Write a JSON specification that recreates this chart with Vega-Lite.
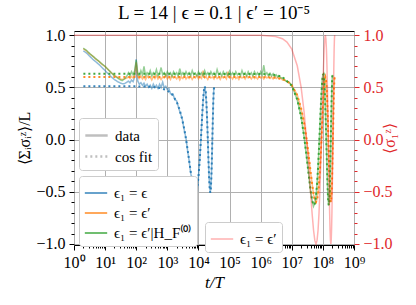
{
"$schema": "https://vega.github.io/schema/vega-lite/v6.json",
"width": 280, "height": 214,
"autosize": {"type": "none"},
"padding": {"left": 74, "top": 31, "right": 62, "bottom": 60},
"title": {"text": "L = 14 | ϵ = 0.1 | ϵ′ = 10⁻⁵", "font": "Liberation Serif", "fontSize": 19, "fontWeight": "normal", "anchor": "middle", "baseline": "alphabetic", "offset": 10, "dy": 21, "color": "black"},
"datasets": {
"main": [
{"t":1.995,"v":0.85,"s":"a"},{"t":2.512,"v":0.83,"s":"a"},{"t":3.162,"v":0.80,"s":"a"},{"t":3.981,"v":0.77,"s":"a"},{"t":5.012,"v":0.745,"s":"a"},{"t":6.31,"v":0.72,"s":"a"},{"t":7.943,"v":0.69,"s":"a"},{"t":10,"v":0.66,"s":"a"},{"t":12.59,"v":0.63,"s":"a"},{"t":15.85,"v":0.60,"s":"a"},{"t":19.95,"v":0.575,"s":"a"},{"t":25.12,"v":0.555,"s":"a"},{"t":31.62,"v":0.54,"s":"a"},{"t":35.48,"v":0.535,"s":"a"},{"t":39.81,"v":0.535,"s":"a"},{"t":44.67,"v":0.54,"s":"a"},{"t":50.12,"v":0.55,"s":"a"},
{"t":56.23,"v":0.56,"s":"a"},{"t":63.1,"v":0.545,"s":"a"},{"t":70.79,"v":0.57,"s":"a"},{"t":79.43,"v":0.555,"s":"a"},{"t":89.13,"v":0.6,"s":"a"},{"t":100,"v":0.77,"s":"a"},{"t":112.2,"v":0.56,"s":"a"},{"t":125.9,"v":0.53,"s":"a"},{"t":141.3,"v":0.545,"s":"a"},{"t":158.5,"v":0.52,"s":"a"},{"t":177.8,"v":0.54,"s":"a"},{"t":199.5,"v":0.51,"s":"a"},{"t":223.9,"v":0.53,"s":"a"},{"t":251.2,"v":0.5,"s":"a"},{"t":281.8,"v":0.52,"s":"a"},{"t":316.2,"v":0.49,"s":"a"},{"t":354.8,"v":0.53,"s":"a"},{"t":398.1,"v":0.5,"s":"a"},{"t":446.7,"v":0.52,"s":"a"},{"t":501.2,"v":0.49,"s":"a"},{"t":562.3,"v":0.53,"s":"a"},{"t":631,"v":0.5,"s":"a"},{"t":707.9,"v":0.55,"s":"a"},{"t":794.3,"v":0.495,"s":"a"},{"t":891.3,"v":0.51,"s":"a"},{"t":1000,"v":0.48,"s":"a"},
{"t":1122,"v":0.49,"s":"a"},{"t":1259,"v":0.44,"s":"a"},{"t":1500,"v":0.44,"s":"a"},{"t":1750,"v":0.38,"s":"a"},{"t":2000,"v":0.37,"s":"a"},{"t":2500,"v":0.27,"s":"a"},{"t":3000,"v":0.2,"s":"a"},{"t":3500,"v":0.09,"s":"a"},{"t":4000,"v":0.01,"s":"a"},{"t":4500,"v":-0.11,"s":"a"},{"t":5000,"v":-0.2,"s":"a"},{"t":5500,"v":-0.3,"s":"a"},{"t":6000,"v":-0.37,"s":"a"},{"t":6500,"v":-0.44,"s":"a"},{"t":7000,"v":-0.5,"s":"a"},{"t":7500,"v":-0.55,"s":"a"},{"t":8000,"v":-0.58,"s":"a"},{"t":8500,"v":-0.6,"s":"a"},{"t":9000,"v":-0.55,"s":"a"},{"t":9500,"v":-0.45,"s":"a"},{"t":10000,"v":-0.36,"s":"a"},{"t":11000,"v":-0.19,"s":"a"},{"t":12000,"v":0,"s":"a"},{"t":13000,"v":0.2,"s":"a"},{"t":14000,"v":0.36,"s":"a"},{"t":15000,"v":0.47,"s":"a"},{"t":16000,"v":0.5,"s":"a"},{"t":17000,"v":0.46,"s":"a"},{"t":18000,"v":0.35,"s":"a"},{"t":19000,"v":0.19,"s":"a"},{"t":20000,"v":0,"s":"a"},{"t":21000,"v":-0.2,"s":"a"},{"t":22000,"v":-0.36,"s":"a"},{"t":23000,"v":-0.46,"s":"a"},{"t":24000,"v":-0.5,"s":"a"},{"t":25000,"v":-0.47,"s":"a"},{"t":26000,"v":-0.36,"s":"a"},{"t":27000,"v":-0.2,"s":"a"},{"t":28000,"v":0,"s":"a"},{"t":29000,"v":0.2,"s":"a"},{"t":30000,"v":0.36,"s":"a"},{"t":31000,"v":0.47,"s":"a"},{"t":32000,"v":0.5,"s":"a"},

{"t":1.995,"v":0.87,"s":"b"},{"t":2.512,"v":0.85,"s":"b"},{"t":3.162,"v":0.82,"s":"b"},{"t":3.981,"v":0.80,"s":"b"},{"t":5.012,"v":0.77,"s":"b"},{"t":6.31,"v":0.75,"s":"b"},{"t":7.943,"v":0.72,"s":"b"},{"t":10,"v":0.70,"s":"b"},{"t":12.59,"v":0.67,"s":"b"},{"t":15.85,"v":0.64,"s":"b"},{"t":19.95,"v":0.615,"s":"b"},{"t":25.12,"v":0.595,"s":"b"},{"t":31.62,"v":0.58,"s":"b"},{"t":35.48,"v":0.575,"s":"b"},{"t":39.81,"v":0.58,"s":"b"},{"t":44.67,"v":0.585,"s":"b"},{"t":50.12,"v":0.59,"s":"b"},
{"t":56.23,"v":0.60,"s":"b"},{"t":63.1,"v":0.585,"s":"b"},{"t":70.79,"v":0.605,"s":"b"},{"t":79.43,"v":0.59,"s":"b"},{"t":89.13,"v":0.62,"s":"b"},{"t":100,"v":0.74,"s":"b"},{"t":112.2,"v":0.60,"s":"b"},{"t":125.9,"v":0.585,"s":"b"},{"t":141.3,"v":0.61,"s":"b"},{"t":158.5,"v":0.58,"s":"b"},{"t":177.8,"v":0.6,"s":"b"},{"t":199.5,"v":0.575,"s":"b"},{"t":223.9,"v":0.61,"s":"b"},{"t":251.2,"v":0.59,"s":"b"},{"t":281.8,"v":0.6,"s":"b"},{"t":316.2,"v":0.57,"s":"b"},{"t":354.8,"v":0.605,"s":"b"},{"t":398.1,"v":0.585,"s":"b"},{"t":446.7,"v":0.615,"s":"b"},{"t":501.2,"v":0.58,"s":"b"},{"t":562.3,"v":0.6,"s":"b"},{"t":631,"v":0.575,"s":"b"},{"t":707.9,"v":0.6,"s":"b"},{"t":794.3,"v":0.59,"s":"b"},{"t":891.3,"v":0.62,"s":"b"},{"t":1000,"v":0.58,"s":"b"},
{"t":1122,"v":0.6,"s":"b"},{"t":1259,"v":0.575,"s":"b"},{"t":1413,"v":0.61,"s":"b"},{"t":1585,"v":0.59,"s":"b"},{"t":1778,"v":0.6,"s":"b"},{"t":1995,"v":0.58,"s":"b"},{"t":2239,"v":0.605,"s":"b"},{"t":2512,"v":0.57,"s":"b"},{"t":2818,"v":0.6,"s":"b"},{"t":3162,"v":0.585,"s":"b"},{"t":3548,"v":0.61,"s":"b"},{"t":3981,"v":0.58,"s":"b"},{"t":4467,"v":0.6,"s":"b"},{"t":5012,"v":0.585,"s":"b"},{"t":5623,"v":0.605,"s":"b"},{"t":6310,"v":0.575,"s":"b"},{"t":7079,"v":0.6,"s":"b"},{"t":7943,"v":0.59,"s":"b"},{"t":8913,"v":0.615,"s":"b"},{"t":10000,"v":0.58,"s":"b"},
{"t":11220,"v":0.6,"s":"b"},{"t":12590,"v":0.585,"s":"b"},{"t":14130,"v":0.66,"s":"b"},{"t":15850,"v":0.59,"s":"b"},{"t":17780,"v":0.6,"s":"b"},{"t":19950,"v":0.575,"s":"b"},{"t":22390,"v":0.605,"s":"b"},{"t":25120,"v":0.59,"s":"b"},{"t":28180,"v":0.6,"s":"b"},{"t":31620,"v":0.58,"s":"b"},{"t":35480,"v":0.61,"s":"b"},{"t":39810,"v":0.585,"s":"b"},{"t":44670,"v":0.6,"s":"b"},{"t":50120,"v":0.575,"s":"b"},{"t":56230,"v":0.605,"s":"b"},{"t":63100,"v":0.59,"s":"b"},{"t":70790,"v":0.6,"s":"b"},{"t":79430,"v":0.58,"s":"b"},{"t":89130,"v":0.65,"s":"b"},{"t":100000,"v":0.59,"s":"b"},
{"t":112200,"v":0.6,"s":"b"},{"t":125900,"v":0.58,"s":"b"},{"t":141300,"v":0.61,"s":"b"},{"t":158500,"v":0.585,"s":"b"},{"t":177800,"v":0.6,"s":"b"},{"t":199500,"v":0.575,"s":"b"},{"t":223900,"v":0.605,"s":"b"},{"t":251200,"v":0.59,"s":"b"},{"t":281800,"v":0.6,"s":"b"},{"t":316200,"v":0.58,"s":"b"},{"t":354800,"v":0.61,"s":"b"},{"t":398100,"v":0.59,"s":"b"},{"t":446700,"v":0.6,"s":"b"},{"t":501200,"v":0.58,"s":"b"},{"t":562300,"v":0.605,"s":"b"},{"t":631000,"v":0.585,"s":"b"},{"t":707900,"v":0.6,"s":"b"},{"t":794300,"v":0.58,"s":"b"},{"t":891300,"v":0.605,"s":"b"},{"t":1000000,"v":0.59,"s":"b"},
{"t":1122000,"v":0.6,"s":"b"},{"t":1259000,"v":0.58,"s":"b"},{"t":1413000,"v":0.605,"s":"b"},{"t":1585000,"v":0.59,"s":"b"},{"t":1778000,"v":0.6,"s":"b"},{"t":1995000,"v":0.585,"s":"b"},{"t":2239000,"v":0.6,"s":"b"},{"t":2512000,"v":0.58,"s":"b"},{"t":2818000,"v":0.6,"s":"b"},{"t":3162000,"v":0.585,"s":"b"},{"t":3548000,"v":0.595,"s":"b"},{"t":3981000,"v":0.58,"s":"b"},{"t":4467000,"v":0.59,"s":"b"},{"t":5012000,"v":0.57,"s":"b"},{"t":5623000,"v":0.575,"s":"b"},{"t":6310000,"v":0.56,"s":"b"},
{"t":8e6,"v":0.55,"s":"b"},{"t":1e7,"v":0.52,"s":"b"},{"t":1.5e7,"v":0.43,"s":"b"},{"t":2e7,"v":0.29,"s":"b"},{"t":2.5e7,"v":0.16,"s":"b"},{"t":3e7,"v":-0.01,"s":"b"},{"t":3.5e7,"v":-0.15,"s":"b"},{"t":4e7,"v":-0.31,"s":"b"},{"t":4.5e7,"v":-0.42,"s":"b"},{"t":5e7,"v":-0.53,"s":"b"},{"t":5.5e7,"v":-0.57,"s":"b"},{"t":6e7,"v":-0.6,"s":"b"},{"t":6.5e7,"v":-0.57,"s":"b"},{"t":7e7,"v":-0.51,"s":"b"},{"t":7.5e7,"v":-0.43,"s":"b"},{"t":8e7,"v":-0.29,"s":"b"},{"t":8.5e7,"v":-0.16,"s":"b"},{"t":9e7,"v":0.01,"s":"b"},{"t":9.5e7,"v":0.15,"s":"b"},{"t":1e8,"v":0.31,"s":"b"},{"t":1.05e8,"v":0.42,"s":"b"},{"t":1.1e8,"v":0.53,"s":"b"},{"t":1.15e8,"v":0.58,"s":"b"},{"t":1.2e8,"v":0.6,"s":"b"},{"t":1.25e8,"v":0.57,"s":"b"},{"t":1.3e8,"v":0.52,"s":"b"},{"t":1.35e8,"v":0.42,"s":"b"},{"t":1.4e8,"v":0.3,"s":"b"},{"t":1.45e8,"v":0.15,"s":"b"},{"t":1.5e8,"v":0,"s":"b"},{"t":1.55e8,"v":-0.16,"s":"b"},{"t":1.6e8,"v":-0.3,"s":"b"},{"t":1.65e8,"v":-0.43,"s":"b"},{"t":1.7e8,"v":-0.52,"s":"b"},{"t":1.75e8,"v":-0.58,"s":"b"},{"t":1.8e8,"v":-0.6,"s":"b"},{"t":1.85e8,"v":-0.57,"s":"b"},{"t":1.9e8,"v":-0.52,"s":"b"},{"t":1.95e8,"v":-0.42,"s":"b"},{"t":2e8,"v":-0.3,"s":"b"},{"t":2.05e8,"v":-0.15,"s":"b"},{"t":2.1e8,"v":0,"s":"b"},{"t":2.15e8,"v":0.16,"s":"b"},{"t":2.2e8,"v":0.3,"s":"b"},{"t":2.25e8,"v":0.43,"s":"b"},{"t":2.3e8,"v":0.52,"s":"b"},{"t":2.35e8,"v":0.58,"s":"b"},{"t":2.4e8,"v":0.6,"s":"b"},

{"t":1.995,"v":0.875,"s":"c"},{"t":2.512,"v":0.855,"s":"c"},{"t":3.162,"v":0.825,"s":"c"},{"t":3.981,"v":0.80,"s":"c"},{"t":5.012,"v":0.775,"s":"c"},{"t":6.31,"v":0.75,"s":"c"},{"t":7.943,"v":0.725,"s":"c"},{"t":10,"v":0.70,"s":"c"},{"t":12.59,"v":0.67,"s":"c"},{"t":15.85,"v":0.64,"s":"c"},{"t":19.95,"v":0.61,"s":"c"},{"t":25.12,"v":0.59,"s":"c"},{"t":31.62,"v":0.57,"s":"c"},{"t":35.48,"v":0.565,"s":"c"},{"t":39.81,"v":0.575,"s":"c"},{"t":44.67,"v":0.59,"s":"c"},{"t":50.12,"v":0.61,"s":"c"},
{"t":56.23,"v":0.64,"s":"c"},{"t":63.1,"v":0.61,"s":"c"},{"t":70.79,"v":0.65,"s":"c"},{"t":79.43,"v":0.62,"s":"c"},{"t":89.13,"v":0.66,"s":"c"},{"t":100,"v":0.76,"s":"c"},{"t":112.2,"v":0.63,"s":"c"},{"t":125.9,"v":0.61,"s":"c"},{"t":141.3,"v":0.66,"s":"c"},{"t":158.5,"v":0.62,"s":"c"},{"t":177.8,"v":0.70,"s":"c"},{"t":199.5,"v":0.61,"s":"c"},{"t":223.9,"v":0.64,"s":"c"},{"t":251.2,"v":0.62,"s":"c"},{"t":281.8,"v":0.66,"s":"c"},{"t":316.2,"v":0.61,"s":"c"},{"t":354.8,"v":0.64,"s":"c"},{"t":398.1,"v":0.62,"s":"c"},{"t":446.7,"v":0.67,"s":"c"},{"t":501.2,"v":0.61,"s":"c"},{"t":562.3,"v":0.635,"s":"c"},{"t":631,"v":0.69,"s":"c"},{"t":707.9,"v":0.62,"s":"c"},{"t":794.3,"v":0.64,"s":"c"},{"t":891.3,"v":0.61,"s":"c"},{"t":1000,"v":0.65,"s":"c"},
{"t":1122,"v":0.62,"s":"c"},{"t":1259,"v":0.64,"s":"c"},{"t":1413,"v":0.605,"s":"c"},{"t":1585,"v":0.65,"s":"c"},{"t":1778,"v":0.62,"s":"c"},{"t":1995,"v":0.64,"s":"c"},{"t":2239,"v":0.61,"s":"c"},{"t":2512,"v":0.68,"s":"c"},{"t":2818,"v":0.62,"s":"c"},{"t":3162,"v":0.64,"s":"c"},{"t":3548,"v":0.61,"s":"c"},{"t":3981,"v":0.65,"s":"c"},{"t":4467,"v":0.62,"s":"c"},{"t":5012,"v":0.64,"s":"c"},{"t":5623,"v":0.61,"s":"c"},{"t":6310,"v":0.66,"s":"c"},{"t":7079,"v":0.62,"s":"c"},{"t":7943,"v":0.635,"s":"c"},{"t":8913,"v":0.61,"s":"c"},{"t":10000,"v":0.65,"s":"c"},
{"t":11220,"v":0.62,"s":"c"},{"t":12590,"v":0.64,"s":"c"},{"t":14130,"v":0.61,"s":"c"},{"t":15850,"v":0.66,"s":"c"},{"t":17780,"v":0.62,"s":"c"},{"t":19950,"v":0.64,"s":"c"},{"t":22390,"v":0.61,"s":"c"},{"t":25120,"v":0.65,"s":"c"},{"t":28180,"v":0.62,"s":"c"},{"t":31620,"v":0.64,"s":"c"},{"t":35480,"v":0.61,"s":"c"},{"t":39810,"v":0.67,"s":"c"},{"t":44670,"v":0.62,"s":"c"},{"t":50120,"v":0.64,"s":"c"},{"t":56230,"v":0.61,"s":"c"},{"t":63100,"v":0.65,"s":"c"},{"t":70790,"v":0.62,"s":"c"},{"t":79430,"v":0.64,"s":"c"},{"t":89130,"v":0.61,"s":"c"},{"t":100000,"v":0.655,"s":"c"},
{"t":112200,"v":0.62,"s":"c"},{"t":125900,"v":0.64,"s":"c"},{"t":141300,"v":0.61,"s":"c"},{"t":158500,"v":0.65,"s":"c"},{"t":177800,"v":0.62,"s":"c"},{"t":199500,"v":0.635,"s":"c"},{"t":223900,"v":0.61,"s":"c"},{"t":251200,"v":0.66,"s":"c"},{"t":281800,"v":0.62,"s":"c"},{"t":316200,"v":0.64,"s":"c"},{"t":354800,"v":0.61,"s":"c"},{"t":398100,"v":0.65,"s":"c"},{"t":446700,"v":0.62,"s":"c"},{"t":501200,"v":0.64,"s":"c"},{"t":562300,"v":0.61,"s":"c"},{"t":631000,"v":0.65,"s":"c"},{"t":707900,"v":0.62,"s":"c"},{"t":794300,"v":0.64,"s":"c"},{"t":891300,"v":0.61,"s":"c"},{"t":1000000,"v":0.65,"s":"c"},
{"t":1122000,"v":0.62,"s":"c"},{"t":1259000,"v":0.71,"s":"c"},{"t":1413000,"v":0.62,"s":"c"},{"t":1585000,"v":0.64,"s":"c"},{"t":1778000,"v":0.61,"s":"c"},{"t":1995000,"v":0.635,"s":"c"},{"t":2239000,"v":0.61,"s":"c"},{"t":2512000,"v":0.63,"s":"c"},{"t":2818000,"v":0.6,"s":"c"},{"t":3162000,"v":0.62,"s":"c"},{"t":3548000,"v":0.6,"s":"c"},{"t":3981000,"v":0.61,"s":"c"},{"t":4467000,"v":0.59,"s":"c"},{"t":5012000,"v":0.59,"s":"c"},{"t":5623000,"v":0.57,"s":"c"},{"t":6310000,"v":0.565,"s":"c"},
{"t":8e6,"v":0.55,"s":"c"},{"t":1e7,"v":0.52,"s":"c"},{"t":1.5e7,"v":0.38,"s":"c"},{"t":2e7,"v":0.22,"s":"c"},{"t":2.5e7,"v":0.02,"s":"c"},{"t":3e7,"v":-0.17,"s":"c"},{"t":3.5e7,"v":-0.33,"s":"c"},{"t":4e7,"v":-0.49,"s":"c"},{"t":4.5e7,"v":-0.58,"s":"c"},{"t":5e7,"v":-0.64,"s":"c"},{"t":5.5e7,"v":-0.61,"s":"c"},{"t":6e7,"v":-0.55,"s":"c"},{"t":6.5e7,"v":-0.42,"s":"c"},{"t":7e7,"v":-0.27,"s":"c"},{"t":7.5e7,"v":-0.07,"s":"c"},{"t":8e7,"v":0.11,"s":"c"},{"t":8.5e7,"v":0.3,"s":"c"},{"t":9e7,"v":0.44,"s":"c"},{"t":9.5e7,"v":0.57,"s":"c"},{"t":1e8,"v":0.62,"s":"c"},{"t":1.05e8,"v":0.63,"s":"c"},{"t":1.1e8,"v":0.56,"s":"c"},{"t":1.15e8,"v":0.47,"s":"c"},{"t":1.2e8,"v":0.3,"s":"c"},{"t":1.25e8,"v":0.14,"s":"c"},{"t":1.3e8,"v":-0.06,"s":"c"},{"t":1.35e8,"v":-0.24,"s":"c"},{"t":1.4e8,"v":-0.41,"s":"c"},{"t":1.45e8,"v":-0.54,"s":"c"},{"t":1.5e8,"v":-0.6,"s":"c"},{"t":1.55e8,"v":-0.63,"s":"c"},{"t":1.6e8,"v":-0.59,"s":"c"},{"t":1.65e8,"v":-0.49,"s":"c"},{"t":1.7e8,"v":-0.36,"s":"c"},{"t":1.75e8,"v":-0.2,"s":"c"},{"t":1.8e8,"v":0.01,"s":"c"},{"t":1.85e8,"v":0.19,"s":"c"},{"t":1.9e8,"v":0.37,"s":"c"},{"t":1.95e8,"v":0.5,"s":"c"},{"t":2e8,"v":0.6,"s":"c"},{"t":2.05e8,"v":0.62,"s":"c"}
],
"fit": [
{"t":2,"v":0.51,"s":"a"},{"t":100,"v":0.51,"s":"a"},{"t":300,"v":0.506,"s":"a"},{"t":500,"v":0.5,"s":"a"},{"t":1000,"v":0.471,"s":"a"},{"t":1500,"v":0.424,"s":"a"},{"t":2000,"v":0.361,"s":"a"},{"t":2500,"v":0.284,"s":"a"},{"t":3000,"v":0.195,"s":"a"},{"t":3500,"v":0.1,"s":"a"},{"t":4000,"v":0,"s":"a"},{"t":4500,"v":-0.1,"s":"a"},{"t":5000,"v":-0.195,"s":"a"},{"t":5500,"v":-0.284,"s":"a"},{"t":6000,"v":-0.361,"s":"a"},{"t":6500,"v":-0.424,"s":"a"},{"t":7000,"v":-0.471,"s":"a"},{"t":7500,"v":-0.5,"s":"a"},{"t":8000,"v":-0.51,"s":"a"},{"t":8500,"v":-0.5,"s":"a"},{"t":9000,"v":-0.471,"s":"a"},{"t":9500,"v":-0.424,"s":"a"},{"t":10000,"v":-0.361,"s":"a"},{"t":11000,"v":-0.195,"s":"a"},{"t":12000,"v":0,"s":"a"},{"t":13000,"v":0.195,"s":"a"},{"t":14000,"v":0.361,"s":"a"},{"t":15000,"v":0.471,"s":"a"},{"t":16000,"v":0.51,"s":"a"},{"t":17000,"v":0.471,"s":"a"},{"t":18000,"v":0.361,"s":"a"},{"t":19000,"v":0.195,"s":"a"},{"t":20000,"v":0,"s":"a"},{"t":21000,"v":-0.195,"s":"a"},{"t":22000,"v":-0.361,"s":"a"},{"t":23000,"v":-0.471,"s":"a"},{"t":24000,"v":-0.51,"s":"a"},{"t":25000,"v":-0.471,"s":"a"},{"t":26000,"v":-0.361,"s":"a"},{"t":27000,"v":-0.195,"s":"a"},{"t":28000,"v":0,"s":"a"},{"t":29000,"v":0.195,"s":"a"},{"t":30000,"v":0.361,"s":"a"},{"t":31000,"v":0.471,"s":"a"},{"t":32000,"v":0.51,"s":"a"},
{"t":2,"v":0.6,"s":"b"},{"t":1e6,"v":0.6,"s":"b"},{"t":3e6,"v":0.593,"s":"b"},{"t":5e6,"v":0.58,"s":"b"},{"t":7e6,"v":0.56,"s":"b"},{"t":1e7,"v":0.52,"s":"b"},{"t":1.5e7,"v":0.424,"s":"b"},{"t":2e7,"v":0.3,"s":"b"},{"t":2.5e7,"v":0.155,"s":"b"},{"t":3e7,"v":0,"s":"b"},{"t":3.5e7,"v":-0.155,"s":"b"},{"t":4e7,"v":-0.3,"s":"b"},{"t":4.5e7,"v":-0.424,"s":"b"},{"t":5e7,"v":-0.52,"s":"b"},{"t":5.5e7,"v":-0.58,"s":"b"},{"t":6e7,"v":-0.6,"s":"b"},{"t":6.5e7,"v":-0.58,"s":"b"},{"t":7e7,"v":-0.52,"s":"b"},{"t":7.5e7,"v":-0.424,"s":"b"},{"t":8e7,"v":-0.3,"s":"b"},{"t":8.5e7,"v":-0.155,"s":"b"},{"t":9e7,"v":0,"s":"b"},{"t":9.5e7,"v":0.155,"s":"b"},{"t":1e8,"v":0.3,"s":"b"},{"t":1.05e8,"v":0.424,"s":"b"},{"t":1.1e8,"v":0.52,"s":"b"},{"t":1.15e8,"v":0.58,"s":"b"},{"t":1.2e8,"v":0.6,"s":"b"},{"t":1.25e8,"v":0.58,"s":"b"},{"t":1.3e8,"v":0.52,"s":"b"},{"t":1.35e8,"v":0.424,"s":"b"},{"t":1.4e8,"v":0.3,"s":"b"},{"t":1.45e8,"v":0.155,"s":"b"},{"t":1.5e8,"v":0,"s":"b"},{"t":1.55e8,"v":-0.155,"s":"b"},{"t":1.6e8,"v":-0.3,"s":"b"},{"t":1.65e8,"v":-0.424,"s":"b"},{"t":1.7e8,"v":-0.52,"s":"b"},{"t":1.75e8,"v":-0.58,"s":"b"},{"t":1.8e8,"v":-0.6,"s":"b"},{"t":1.85e8,"v":-0.58,"s":"b"},{"t":1.9e8,"v":-0.52,"s":"b"},{"t":1.95e8,"v":-0.424,"s":"b"},{"t":2e8,"v":-0.3,"s":"b"},{"t":2.05e8,"v":-0.155,"s":"b"},{"t":2.1e8,"v":0,"s":"b"},{"t":2.15e8,"v":0.155,"s":"b"},{"t":2.2e8,"v":0.3,"s":"b"},{"t":2.25e8,"v":0.424,"s":"b"},{"t":2.3e8,"v":0.52,"s":"b"},{"t":2.35e8,"v":0.58,"s":"b"},{"t":2.4e8,"v":0.6,"s":"b"},
{"t":2,"v":0.63,"s":"c"},{"t":1e6,"v":0.629,"s":"c"},{"t":3e6,"v":0.619,"s":"c"},{"t":5e6,"v":0.6,"s":"c"},{"t":1e7,"v":0.516,"s":"c"},{"t":1.5e7,"v":0.383,"s":"c"},{"t":2e7,"v":0.215,"s":"c"},{"t":2.5e7,"v":0.028,"s":"c"},{"t":3e7,"v":-0.163,"s":"c"},{"t":3.5e7,"v":-0.338,"s":"c"},{"t":4e7,"v":-0.483,"s":"c"},{"t":4.5e7,"v":-0.582,"s":"c"},{"t":5e7,"v":-0.628,"s":"c"},{"t":5.5e7,"v":-0.615,"s":"c"},{"t":6e7,"v":-0.546,"s":"c"},{"t":6.5e7,"v":-0.426,"s":"c"},{"t":7e7,"v":-0.266,"s":"c"},{"t":7.5e7,"v":-0.082,"s":"c"},{"t":8e7,"v":0.11,"s":"c"},{"t":8.5e7,"v":0.291,"s":"c"},{"t":9e7,"v":0.445,"s":"c"},{"t":9.5e7,"v":0.559,"s":"c"},{"t":1e8,"v":0.62,"s":"c"},{"t":1.05e8,"v":0.625,"s":"c"},{"t":1.1e8,"v":0.571,"s":"c"},{"t":1.15e8,"v":0.465,"s":"c"},{"t":1.2e8,"v":0.315,"s":"c"},{"t":1.25e8,"v":0.136,"s":"c"},{"t":1.3e8,"v":-0.055,"s":"c"},{"t":1.35e8,"v":-0.241,"s":"c"},{"t":1.4e8,"v":-0.405,"s":"c"},{"t":1.45e8,"v":-0.531,"s":"c"},{"t":1.5e8,"v":-0.609,"s":"c"},{"t":1.55e8,"v":-0.629,"s":"c"},{"t":1.6e8,"v":-0.592,"s":"c"},{"t":1.65e8,"v":-0.5,"s":"c"},{"t":1.7e8,"v":-0.361,"s":"c"},{"t":1.75e8,"v":-0.19,"s":"c"},{"t":1.8e8,"v":0,"s":"c"},{"t":1.85e8,"v":0.19,"s":"c"},{"t":1.9e8,"v":0.361,"s":"c"},{"t":1.95e8,"v":0.5,"s":"c"},{"t":2e8,"v":0.592,"s":"c"},{"t":2.05e8,"v":0.629,"s":"c"}
],
"pink": [
{"t":1,"v":1},{"t":1e6,"v":1},{"t":3e6,"v":0.988},{"t":5e6,"v":0.966},{"t":7e6,"v":0.934},{"t":1e7,"v":0.866},{"t":1.5e7,"v":0.707},{"t":2e7,"v":0.5},{"t":2.5e7,"v":0.259},{"t":3e7,"v":0},{"t":3.5e7,"v":-0.259},{"t":4e7,"v":-0.5},{"t":4.5e7,"v":-0.707},{"t":5e7,"v":-0.866},{"t":5.5e7,"v":-0.966},{"t":6e7,"v":-1},{"t":6.5e7,"v":-0.966},{"t":7e7,"v":-0.866},{"t":7.5e7,"v":-0.707},{"t":8e7,"v":-0.5},{"t":8.5e7,"v":-0.259},{"t":9e7,"v":0},{"t":9.5e7,"v":0.259},{"t":1e8,"v":0.5},{"t":1.05e8,"v":0.707},{"t":1.1e8,"v":0.866},{"t":1.15e8,"v":0.966},{"t":1.2e8,"v":1},{"t":1.25e8,"v":0.966},{"t":1.3e8,"v":0.866},{"t":1.35e8,"v":0.707},{"t":1.4e8,"v":0.5},{"t":1.45e8,"v":0.259},{"t":1.5e8,"v":0},{"t":1.55e8,"v":-0.259},{"t":1.6e8,"v":-0.5},{"t":1.65e8,"v":-0.707},{"t":1.7e8,"v":-0.866},{"t":1.75e8,"v":-0.966},{"t":1.8e8,"v":-1},{"t":1.85e8,"v":-0.966},{"t":1.9e8,"v":-0.866},{"t":1.95e8,"v":-0.707},{"t":2e8,"v":-0.5},{"t":2.05e8,"v":-0.259},{"t":2.1e8,"v":0},{"t":2.15e8,"v":0.259},{"t":2.2e8,"v":0.5},{"t":2.25e8,"v":0.707},{"t":2.3e8,"v":0.866},{"t":2.35e8,"v":0.966},{"t":2.4e8,"v":1}
]
},
"layer": [
{
"data": {"name": "main"},
"mark": {"type": "line", "strokeWidth": 1.5, "opacity": 0.5},
"encoding": {
"x": {"field": "t", "type": "quantitative", "scale": {"type": "log", "domain": [1, 1e9], "nice": false},
 "axis": {"orient": "bottom", "values": [1,10,100,1000,10000,100000,1000000,10000000,100000000,1000000000], "labelExpr": "'10' + ['⁰','¹','²','³','⁴','⁵','⁶','⁷','⁸','⁹'][round(log(datum.value)/LN10)]", "grid": true, "title": "t/T", "titleFontStyle": "italic", "titleFontSize": 17, "titlePadding": 4, "tickSize": 5, "labelPadding": 4, "labelFlush": false, "labelOverlap": false, "labelFontSize": 16}},
"y": {"field": "v", "type": "quantitative", "scale": {"domain": [-1.01, 1.04], "nice": false, "zero": false},
 "axis": {"orient": "left", "values": [-1,-0.5,0,0.5,1], "format": ".1f", "grid": true, "title": "⟨Σᵢσᵢᶻ⟩/L", "titleFontSize": 16, "titlePadding": 3, "tickSize": 5, "labelPadding": 4, "labelFontSize": 16}},
"color": {"field": "s", "type": "nominal", "scale": {"domain": ["a","b","c"], "range": ["#1f77b4","#ff7f0e","#2ca02c"]},
 "legend": {"orient": "none", "legendX": 5, "legendY": 145, "title": null, "labelExpr": "datum.label == 'a' ? 'ϵ₁ = ϵ' : datum.label == 'b' ? 'ϵ₁ = ϵ′' : 'ϵ₁ = ϵ′|H_F⁽⁰⁾'", "symbolOpacity": 0.5, "symbolStrokeWidth": 1.5, "symbolType": "stroke", "symbolSize": 500, "rowPadding": -2}},
"strokeDash": {"datum": "data", "scale": {"domain": ["data","cos fit"], "range": [[1,0],[2,3]]},
 "legend": {"orient": "none", "legendX": 5, "legendY": 87, "title": null, "symbolStrokeColor": "gray", "symbolStrokeWidth": 2.5, "symbolType": "stroke", "symbolSize": 500, "rowPadding": -3}}
}
},
{
"data": {"name": "fit"},
"mark": {"type": "line", "strokeWidth": 2, "opacity": 0.9},
"encoding": {
"x": {"field": "t", "type": "quantitative", "scale": {"type": "log", "domain": [1, 1e9], "nice": false},
 "axis": {"orient": "bottom", "values": [2,3,4,5,6,7,8,9,20,30,40,50,60,70,80,90,200,300,400,500,600,700,800,900,2000,3000,4000,5000,6000,7000,8000,9000,20000,30000,40000,50000,60000,70000,80000,90000,2e5,3e5,4e5,5e5,6e5,7e5,8e5,9e5,2e6,3e6,4e6,5e6,6e6,7e6,8e6,9e6,2e7,3e7,4e7,5e7,6e7,7e7,8e7,9e7,2e8,3e8,4e8,5e8,6e8,7e8,8e8,9e8], "labels": false, "grid": false, "title": null, "tickSize": 3}},
"y": {"field": "v", "type": "quantitative", "scale": {"domain": [-1.01, 1.04], "nice": false, "zero": false},
 "axis": {"orient": "left", "values": [-0.9,-0.8,-0.7,-0.6,-0.4,-0.3,-0.2,-0.1,0.1,0.2,0.3,0.4,0.6,0.7,0.8,0.9], "labels": false, "grid": false, "title": null, "tickSize": 3}},
"color": {"field": "s", "type": "nominal", "scale": {"domain": ["a","b","c"], "range": ["#1f77b4","#ff7f0e","#2ca02c"]}},
"strokeDash": {"datum": "cos fit", "scale": {"domain": ["data","cos fit"], "range": [[1,0],[2,3]]}}
}
},
{
"data": {"name": "pink"},
"mark": {"type": "line", "strokeWidth": 1.5, "opacity": 0.3},
"encoding": {
"x": {"field": "t", "type": "quantitative", "scale": {"type": "log", "domain": [1, 1e9], "nice": false}, "axis": null},
"y": {"field": "v", "type": "quantitative", "scale": {"domain": [-1.01, 1.04], "nice": false, "zero": false},
 "axis": {"orient": "right", "values": [-1,-0.5,0,0.5,1], "format": ".1f", "grid": false, "title": "⟨σ₁ᶻ⟩", "titleAngle": -90, "titleColor": "#e0282b", "labelColor": "#e0282b", "tickColor": "#e0282b", "titleFontSize": 16, "titlePadding": 5, "tickSize": 5, "labelPadding": 4, "labelFontSize": 16}},
"stroke": {"datum": "p", "scale": {"domain": ["p"], "range": ["#ff0000"]},
 "legend": {"orient": "none", "legendX": 131, "legendY": 191, "title": null, "labelExpr": "'ϵ₁ = ϵ′'", "symbolOpacity": 0.3, "symbolStrokeWidth": 1.5, "symbolType": "stroke", "symbolSize": 500}}
}
},
{
"data": {"name": "pink"},
"mark": {"type": "line", "opacity": 0},
"encoding": {
"x": {"field": "t", "type": "quantitative", "scale": {"type": "log", "domain": [1, 1e9], "nice": false}, "axis": null},
"y": {"field": "v", "type": "quantitative", "scale": {"domain": [-1.01, 1.04], "nice": false, "zero": false},
 "axis": {"orient": "right", "values": [-0.9,-0.8,-0.7,-0.6,-0.4,-0.3,-0.2,-0.1,0.1,0.2,0.3,0.4,0.6,0.7,0.8,0.9], "labels": false, "grid": false, "title": null, "tickSize": 3, "tickColor": "#e0282b"}}
}
}
],
"resolve": {"axis": {"x": "independent", "y": "independent"}},
"config": {
"view": {"stroke": "black", "strokeWidth": 1},
"axis": {"labelFont": "Liberation Serif", "titleFont": "Liberation Serif", "titleFontWeight": "normal", "labelColor": "black", "titleColor": "black", "tickColor": "black", "domain": false, "gridColor": "#b0b0b0", "gridWidth": 1, "gridOpacity": 1},
"legend": {"labelFont": "Liberation Serif", "labelFontSize": 15, "labelColor": "black", "strokeColor": "#cccccc", "fillColor": "white", "cornerRadius": 3, "padding": 5, "labelOffset": 6}
}
}
